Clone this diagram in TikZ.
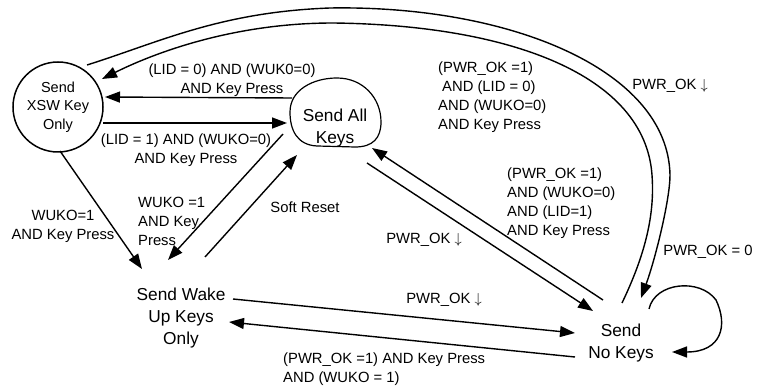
\documentclass[tikz,border=0pt]{standalone}
\usepackage{fontspec}
\setmainfont{Liberation Sans}
\usetikzlibrary{arrows.meta}
\newcommand{\pwrdown}{PWR\_OK $\downarrow$}
\begin{document}
\begin{tikzpicture}[x=1pt,y=-1pt,
  conn/.style={line width=1.4pt,-{Triangle[length=15pt,width=11pt]}},
  lbl/.style={inner sep=0pt,font=\fontsize{14.8}{19}\selectfont,align=center},
  lbll/.style={inner sep=0pt,font=\fontsize{14.8}{19}\selectfont,align=left,anchor=west},
  st/.style={inner sep=0pt,font=\fontsize{17.3}{22}\selectfont,align=center}]
\useasboundingbox (0,0) rectangle (758,390);

% states
\node[circle,draw,line width=1.5pt,minimum size=90pt,inner sep=0pt,outer sep=0pt,
      font=\fontsize{14.5}{18.5}\selectfont,align=center] (xsw) at (58,107) {Send\\XSW Key\\Only};
\node[st] (all) at (335,128) {Send All\\Keys};
\node[st] (wake) at (181,318) {Send Wake\\Up Keys\\Only};
\node[st] (nokeys) at (621,343) {Send\\No Keys};

% outline of "Send All Keys"
\begin{scope}[shift={(all.center)}]
\draw[line width=1.2pt] (-45,-16) .. controls (-45,-38) and (-22,-50) .. (2,-50)
  .. controls (28,-50) and (46,-30) .. (46,-6)
  .. controls (46,10) and (38,19) .. (20,19) -- (-18,18)
  .. controls (-38,17) and (-45,2) .. (-45,-16) -- cycle;
\end{scope}

% connectors
\draw[conn] ([shift={(45,16)}]xsw.center) -- ([shift={(-48,-5)}]all.center);
\draw[conn] ([shift={(-43,-30)}]all.center) -- ([shift={(47,-10)}]xsw.center);
\draw[conn] ([shift={(2,44)}]xsw.center) -- ([shift={(-39,-49)}]wake.center);
\draw[conn] ([shift={(-52,6)}]all.center) -- ([shift={(-13,-58)}]wake.center);
\draw[conn] ([shift={(24,-61)}]wake.center) -- ([shift={(-38,27)}]all.center);
\draw[conn] ([shift={(32,35)}]all.center) -- ([shift={(-28,-32)}]nokeys.center);
\draw[conn] ([shift={(-18,-43)}]nokeys.center) -- ([shift={(37,20)}]all.center);
\draw[conn] ([shift={(52,-19)}]wake.center) -- ([shift={(-46,-10)}]nokeys.center);
\draw[conn] ([shift={(-46,14)}]nokeys.center) -- ([shift={(48,4)}]wake.center);
\draw[conn] ([shift={(28,-34)}]nokeys.center) .. controls (655,282) and (700,278) .. (716,300)
  .. controls (728,325) and (722,352) .. ([shift={(51,9)}]nokeys.center);
\draw[conn] ([shift={(29,-42)}]xsw.center) .. controls (160,42) and (220,12) .. (330,8)
  .. controls (510,5) and (668,70) .. (670,175)
  .. controls (670,200) and (655,260) .. ([shift={(20,-45)}]nokeys.center);
\draw[conn] ([shift={(1,-40)}]nokeys.center) .. controls (645,255) and (655,215) .. (652,175)
  .. controls (645,75) and (510,25) .. (333,23)
  .. controls (230,23) and (150,55) .. ([shift={(44,-28)}]xsw.center);

% labels
\node[lbl] (l1) at (232,80) {(LID = 0) AND (WUK0=0)\\AND Key Press};
\node[lbl] (l2) at (186,150) {(LID = 1) AND (WUKO=0)\\AND Key Press};
\node[lbl] (l3) at (63,226) {WUKO=1\\AND Key Press};
\node[lbll] (l4) at (138,221) {WUKO =1\\AND Key\\Press};
\node[lbl] (l5) at (305,207) {Soft Reset};
\node[lbl] (l6) at (424,240) {\pwrdown};
\node[lbl] (l7) at (444,300) {\pwrdown};
\node[lbll] (l8) at (283,369) {(PWR\_OK =1) AND Key Press\\AND (WUKO = 1)};
\node[lbll] (l9) at (507,203) {(PWR\_OK =1)\\AND (WUKO=0)\\AND (LID=1)\\AND Key Press};
\node[lbll] (l10) at (438,97) {(PWR\_OK =1)\\\hspace*{4pt}AND (LID = 0)\\AND (WUKO=0)\\AND Key Press};
\node[lbl] (l11) at (670,86) {\pwrdown};
\node[lbl] (l12) at (708,252) {PWR\_OK = 0};
\end{tikzpicture}
\end{document}
